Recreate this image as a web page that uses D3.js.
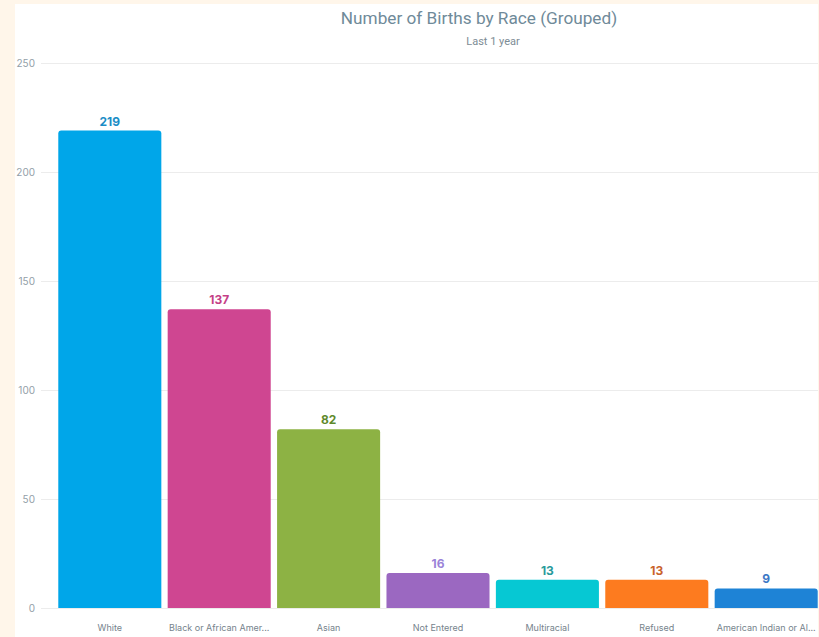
<!DOCTYPE html>
<html><head><meta charset="utf-8">
<script src="https://cdn.jsdelivr.net/npm/d3@7"></script>
<style>
html,body{margin:0;padding:0;background:#fff6ea;}
svg{display:block;}
</style></head><body>
<script>
const categories = ["White","Black or African Amer...","Asian","Not Entered","Multiracial","Refused","American Indian or Al..."];
const values = [219,137,82,16,13,13,9];
const barColors = ["#00a6e9","#cf4691","#8db244","#9b68c1","#06c8d3","#fd7b1f","#1e83d6"];
const labelColors = ["#1b8dc6","#c53f87","#5f8a2c","#9a82d8","#2a9a9b","#c9622c","#3b78c6"];
const yTicks = [0,50,100,150,200,250];

const W=819,H=637;
const svg=d3.select("body").append("svg").attr("width",W).attr("height",H);
svg.append("rect").attr("x",15).attr("y",4).attr("width",803).attr("height",H-4).attr("fill","#ffffff");

const y=d3.scaleLinear().domain([0,250]).range([608,63]);
const x=d3.scaleBand().domain(categories).range([55,821]).paddingInner(0.058).paddingOuter(0.03);

svg.append("text").attr("x",479).attr("y",24).attr("text-anchor","middle")
  .attr("font-family","Roboto, sans-serif").attr("font-size",17.2).attr("fill","#6f8a99")
  .text("Number of Births by Race (Grouped)");
svg.append("text").attr("x",493).attr("y",45).attr("text-anchor","middle")
  .attr("font-family","Roboto, sans-serif").attr("font-size",11).attr("fill","#7d8c95")
  .text("Last 1 year");

const clip=svg.append("clipPath").attr("id","c").append("rect").attr("x",15).attr("y",0).attr("width",803).attr("height",H);
const g=svg.append("g").attr("clip-path","url(#c)");

const yAxis=d3.axisLeft(y).tickValues(yTicks).tickSize(-(818-41)).tickPadding(6);
const ya=g.append("g").attr("transform","translate(41,0)").call(yAxis);
ya.select(".domain").remove();
ya.selectAll(".tick line").attr("stroke","#ececec").attr("stroke-width",1);
ya.selectAll(".tick text").attr("font-family","Inter, sans-serif").attr("font-size",10).attr("fill","#93a0a8").attr("x",-6);

const r=3;
function barPath(x0,y0,w,h){
  const rr=Math.min(r,h/2);
  return `M${x0},${y0+h}V${y0+rr}Q${x0},${y0} ${x0+rr},${y0}H${x0+w-rr}Q${x0+w},${y0} ${x0+w},${y0+rr}V${y0+h}Z`;
}
g.selectAll("path.bar").data(values).join("path").attr("class","bar")
  .attr("d",(d,i)=>barPath(x(categories[i]),y(d),x.bandwidth(),y(0)-y(d)))
  .attr("fill",(d,i)=>barColors[i]);

g.selectAll("text.val").data(values).join("text").attr("class","val")
  .attr("x",(d,i)=>x(categories[i])+x.bandwidth()/2).attr("y",d=>y(d)-5)
  .attr("text-anchor","middle").attr("font-family","Inter, sans-serif").attr("font-weight","bold")
  .attr("font-size",12).attr("fill",(d,i)=>labelColors[i]).text(d=>d);

const xAxis=d3.axisBottom(x).tickSize(0).tickPadding(16);
const xa=g.append("g").attr("transform","translate(0,609)").call(xAxis);
xa.select(".domain").remove();
xa.selectAll(".tick text").attr("font-family","Inter, sans-serif").attr("font-size",9).attr("fill","#76838c");
</script>
</body></html>
